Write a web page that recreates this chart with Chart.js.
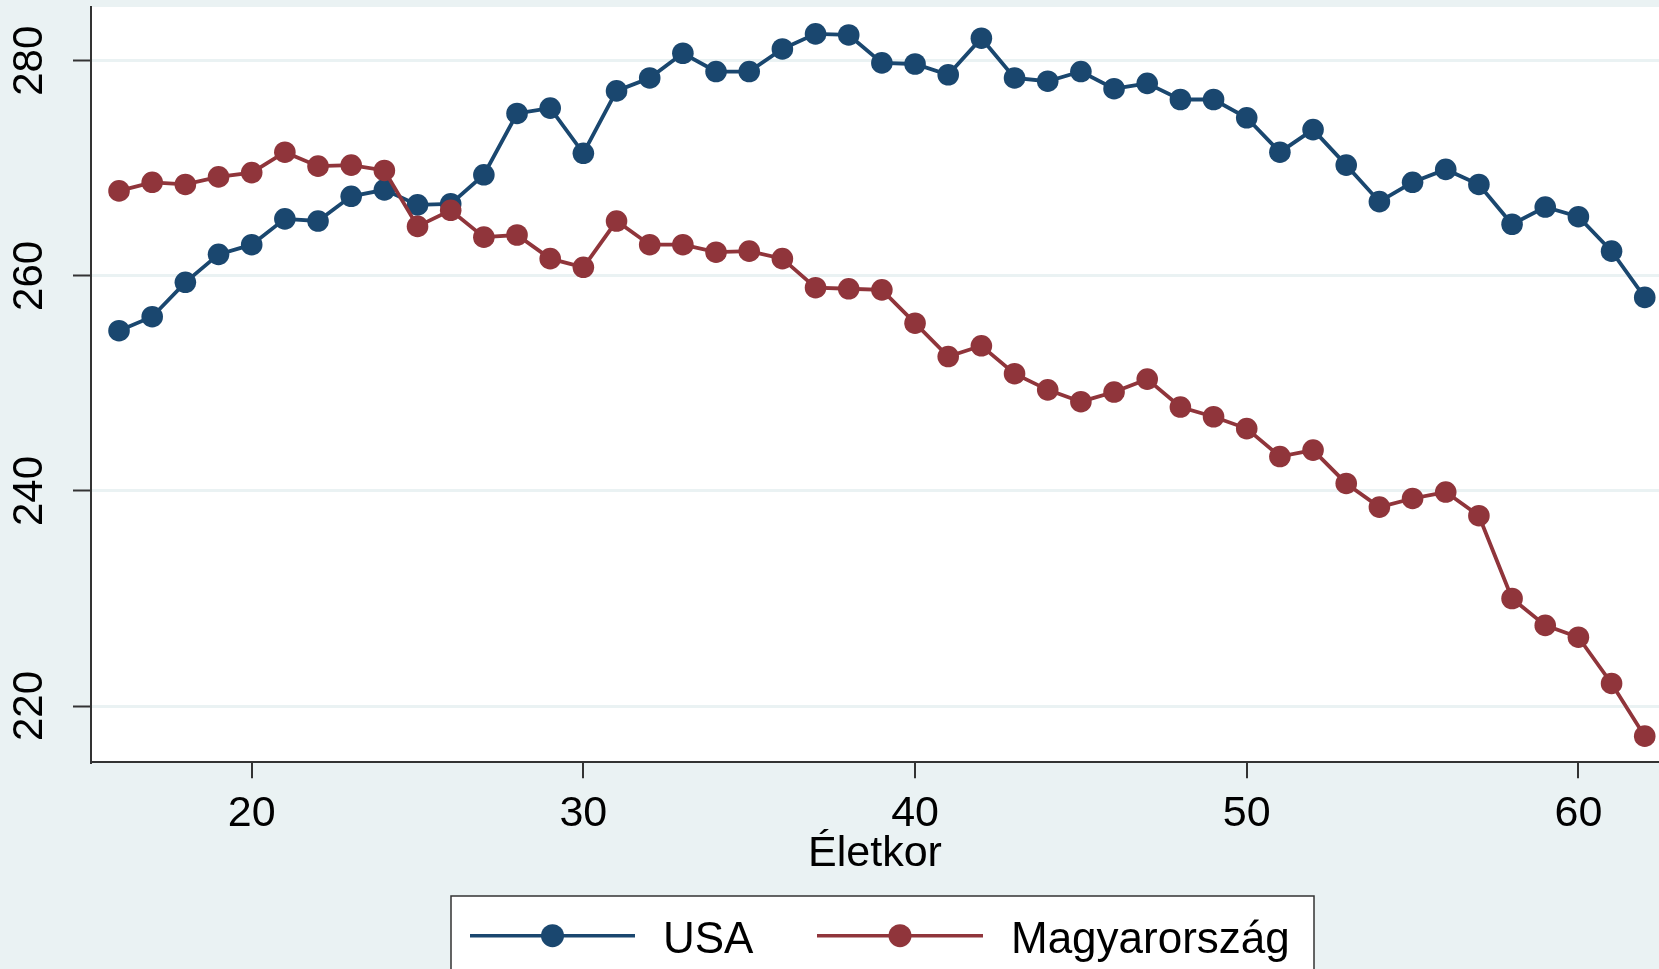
<!DOCTYPE html>
<html>
<head>
<meta charset="utf-8">
<script src="https://cdn.jsdelivr.net/npm/chart.js@4.4.1/dist/chart.umd.min.js"></script>
<style>
  html, body { margin: 0; padding: 0; background: #eaf2f3; overflow: hidden; }
  #c { display: block; }
</style>
</head>
<body>
<canvas id="c" width="1659" height="969"></canvas>
<script>
// ---- Data ----
const ages = [16,17,18,19,20,21,22,23,24,25,26,27,28,29,30,31,32,33,34,35,36,37,38,39,40,
              41,42,43,44,45,46,47,48,49,50,51,52,53,54,55,56,57,58,59,60,61,62];

const usa = [254.9,256.2,259.4,262.0,262.9,265.3,265.1,267.4,268.0,266.6,266.7,269.4,275.1,275.6,271.4,
             277.2,278.4,280.7,279.0,279.0,281.1,282.5,282.4,279.8,279.7,278.7,282.1,278.4,278.1,279.0,
             277.4,277.9,276.4,276.4,274.7,271.5,273.6,270.3,266.9,268.7,269.9,268.5,264.8,266.4,265.5,
             262.3,258.0];

const hungary = [267.9,268.7,268.5,269.2,269.6,271.5,270.2,270.3,269.8,264.6,266.1,263.6,263.8,261.6,260.8,
                 265.1,262.9,262.9,262.2,262.3,261.6,258.9,258.8,258.7,255.6,252.5,253.5,250.9,249.4,248.3,
                 249.2,250.4,247.8,246.9,245.8,243.2,243.8,240.7,238.5,239.3,239.9,237.7,230.0,227.5,226.4,
                 222.1,217.2];

const seriesNames = ["USA", "Magyarország"];
const xTicks = [20, 30, 40, 50, 60];
const yTicks = [220, 240, 260, 280];
const xTitle = "Életkor";

// ---- Styling ----
const NAVY = "#1a476f";
const MAROON = "#90353b";
const BG = "#eaf2f3";
const AXIS = "#333333";
const FONT = "'Liberation Sans', Arial, Helvetica, sans-serif";

function pts(ys) { return ages.map((a, i) => ({ x: a, y: ys[i] })); }

const bgPlugin = {
  id: "bg",
  beforeDraw(chart) {
    const { ctx, chartArea: a } = chart;
    ctx.save();
    ctx.fillStyle = BG;
    ctx.fillRect(0, 0, chart.width, chart.height);
    ctx.fillStyle = "#ffffff";
    ctx.fillRect(a.left, a.top, a.right - a.left, a.bottom - a.top);
    ctx.restore();
  }
};

const legendPlugin = {
  id: "stataLegend",
  afterDraw(chart) {
    const ctx = chart.ctx;
    ctx.save();
    ctx.fillStyle = "#ffffff";
    ctx.fillRect(451, 896, 863, 90);
    ctx.strokeStyle = AXIS;
    ctx.lineWidth = 1.5;
    ctx.strokeRect(451, 896, 863, 90);
    const items = [
      { ds: chart.data.datasets[0], x0: 470, x1: 635, tx: 663 },
      { ds: chart.data.datasets[1], x0: 817, x1: 983, tx: 1011 }
    ];
    const ly = 935.7;
    items.forEach(it => {
      ctx.strokeStyle = it.ds.borderColor;
      ctx.lineWidth = 3.5;
      ctx.beginPath();
      ctx.moveTo(it.x0, ly);
      ctx.lineTo(it.x1, ly);
      ctx.stroke();
      ctx.fillStyle = it.ds.borderColor;
      ctx.beginPath();
      ctx.arc((it.x0 + it.x1) / 2, ly, 11.5, 0, Math.PI * 2);
      ctx.fill();
      ctx.fillStyle = "#000000";
      ctx.font = "44px " + FONT;
      ctx.textAlign = "left";
      ctx.textBaseline = "alphabetic";
      ctx.fillText(it.ds.label, it.tx, 952.7);
    });
    ctx.restore();
  }
};

new Chart(document.getElementById("c"), {
  type: "line",
  data: {
    datasets: [
      {
        label: seriesNames[0],
        data: pts(usa),
        borderColor: NAVY,
        backgroundColor: NAVY,
        pointBackgroundColor: NAVY,
        pointBorderWidth: 0,
        pointRadius: 10.8,
        borderWidth: 3.8,
        tension: 0,
        order: 2
      },
      {
        label: seriesNames[1],
        data: pts(hungary),
        borderColor: MAROON,
        backgroundColor: MAROON,
        pointBackgroundColor: MAROON,
        pointBorderWidth: 0,
        pointRadius: 10.8,
        borderWidth: 3.8,
        tension: 0,
        order: 1
      }
    ]
  },
  options: {
    responsive: false,
    animation: false,
    devicePixelRatio: 1,
    layout: { autoPadding: false, padding: { top: 7, bottom: 88.6, left: 0, right: 0 } },
    plugins: {
      legend: { display: false },
      tooltip: { enabled: false },
      title: { display: false }
    },
    scales: {
      x: {
        type: "linear",
        position: "bottom",
        bounds: "data",
        min: 15.155,
        max: 62.43,
        afterBuildTicks(scale) { scale.ticks = xTicks.map(v => ({ value: v })); },
        afterFit(scale) { scale.height = 118.1; scale.paddingLeft = 0; scale.paddingRight = 0; },
        ticks: {
          includeBounds: false,
          color: "#000000",
          padding: 10,
          maxRotation: 0,
          autoSkip: false,
          font: { family: FONT, size: 43, lineHeight: 1.2 },
          callback: v => String(v)
        },
        grid: {
          display: true,
          drawOnChartArea: false,
          drawTicks: true,
          tickLength: 16,
          color: AXIS,
          lineWidth: 2
        },
        border: { display: true, color: AXIS, width: 2 },
        title: {
          display: true,
          text: xTitle,
          color: "#000000",
          font: { family: FONT, size: 43, lineHeight: 1.2 },
          padding: { top: 0, bottom: 0 }
        }
      },
      y: {
        type: "linear",
        position: "left",
        bounds: "data",
        min: 214.77,
        max: 285,
        afterBuildTicks(scale) { scale.ticks = yTicks.map(v => ({ value: v })); },
        afterFit(scale) { scale.width = 91; scale.paddingTop = 0; scale.paddingBottom = 0; },
        ticks: {
          includeBounds: false,
          color: "#000000",
          padding: 7.2,
          minRotation: 90,
          maxRotation: 90,
          crossAlign: "center",
          font: { family: FONT, size: 42, lineHeight: 1.2 },
          callback: v => String(v)
        },
        grid: {
          display: true,
          drawOnChartArea: true,
          drawTicks: true,
          tickLength: 18,
          color: BG,
          lineWidth: 3,
          tickColor: AXIS,
          tickWidth: 2
        },
        border: { display: true, color: AXIS, width: 2 }
      }
    }
  },
  plugins: [bgPlugin, legendPlugin]
});
</script>
</body>
</html>
